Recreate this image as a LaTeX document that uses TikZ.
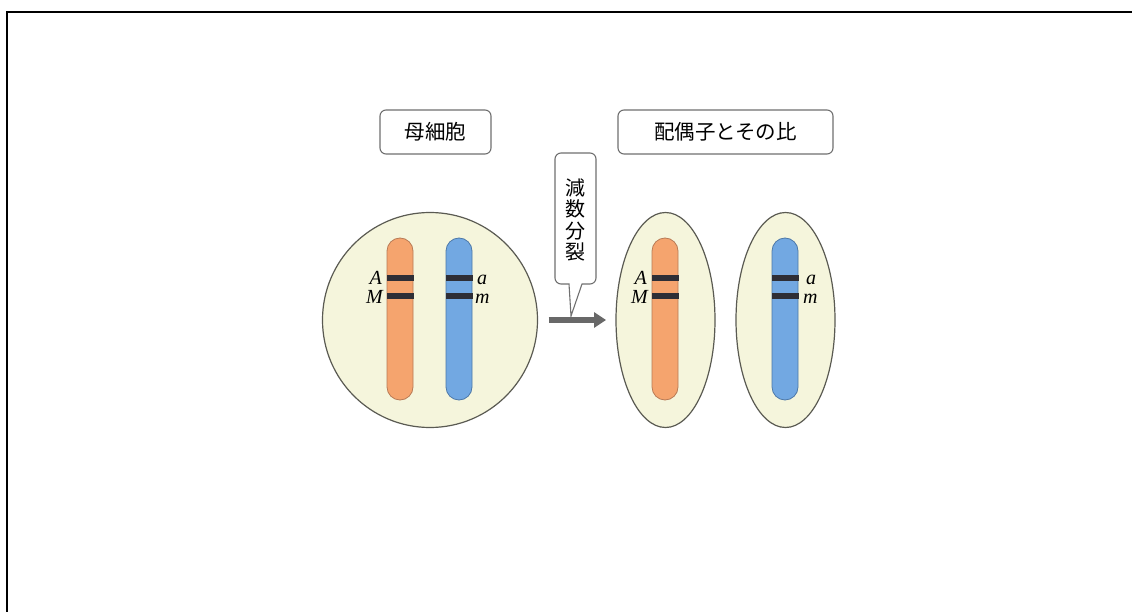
\documentclass[tikz,border=0pt]{standalone}
\usepackage{fontspec}
\newfontfamily\jp{Noto Sans CJK JP}
\newfontfamily\lat{Liberation Serif}
\usetikzlibrary{shapes.geometric,arrows.meta}

\definecolor{cellfill}{HTML}{F5F5DC}
\definecolor{celledge}{HTML}{5A5A52}
\definecolor{chrorange}{HTML}{F5A46E}
\definecolor{orangeedge}{HTML}{B87A55}
\definecolor{chrblue}{HTML}{72A8E2}
\definecolor{blueedge}{HTML}{4D78A8}
\definecolor{band}{HTML}{2E2E36}
\definecolor{boxedge}{HTML}{707070}
\definecolor{arrowgray}{HTML}{686868}

\tikzset{
  cell/.style={draw=celledge, fill=cellfill, line width=1.2pt, inner sep=0pt, outer sep=0pt},
  titlebox/.style={draw=boxedge, fill=white, line width=1.1pt, rounded corners=6pt,
    minimum height=44pt, inner sep=0pt, font=\jp\fontsize{20.5}{22}\selectfont},
  orangechr/.style={draw=orangeedge, fill=chrorange, line width=0.8pt, rounded corners=13pt},
  bluechr/.style={draw=blueedge, fill=chrblue, line width=0.8pt, rounded corners=13pt},
  bandline/.style={fill=band},
  gene/.style={inner sep=0pt, font=\lat\itshape\fontsize{20}{20}\selectfont},
  divarrow/.style={draw=arrowgray, line width=6pt, -{Triangle[length=12pt,width=15pt]}}
}

% one chromosome: style, left x
\newcommand{\chromo}[2]{%
  \draw[#1] (#2,238) rectangle ++(26,162);
  \fill[bandline] (#2-0.5,275) rectangle ++(27,6);
  \fill[bandline] (#2-0.5,293) rectangle ++(27,6);
}

\begin{document}
\begin{tikzpicture}[x=1pt,y=-1pt]
  \useasboundingbox (0,0) rectangle (1132,612);
  \fill[white] (0,0) rectangle (1132,612);
  % outer frame
  \draw[line width=1.6pt] (7,612) -- (7,12) -- (1132,12);

  % headings
  \node[titlebox, minimum width=111pt] (mtitle) at (435.5,132) {母細胞};
  \node[titlebox, minimum width=215pt] (gtitle) at (725.5,132) {配偶子とその比};

  % cells
  \node[cell, circle, minimum size=215pt] (mother) at (430,320) {};
  \node[cell, ellipse, minimum width=99pt, minimum height=215pt] (g1) at (665.5,320) {};
  \node[cell, ellipse, minimum width=99pt, minimum height=215pt] (g2) at (785.5,320) {};

  % chromosomes of the mother cell
  \chromo{orangechr}{387}
  \chromo{bluechr}{446}
  \node[gene, anchor=base east] (mA) at (382,285) {A};
  \node[gene, anchor=base east] (mM) at (383,304) {M};
  \node[gene, anchor=base west] (ma) at (477,285) {a};
  \node[gene, anchor=base west] (mm) at (475,304) {m};

  % chromosomes of the gametes
  \chromo{orangechr}{652}
  \chromo{bluechr}{772}
  \node[gene, anchor=base east] (gA) at (647,285) {A};
  \node[gene, anchor=base east] (gM) at (648,304) {M};
  \node[gene, anchor=base west] (ga) at (806,285) {a};
  \node[gene, anchor=base west] (gm) at (803,304) {m};

  % callout for meiosis
  \draw[draw=boxedge, fill=white, line width=1.1pt]
    (569,284) -- (571,316) -- (582,284) [rounded corners=6pt] -- (596,284) -- (596,153)
    -- (555,153) -- (555,284) [sharp corners] -- cycle;
  \node[inner sep=0pt, align=center, font=\jp\fontsize{20}{21.3}\selectfont] (div) at (575.5,220)
    {減\\数\\分\\裂};

  % division arrow
  \draw[divarrow, shorten <=11pt, shorten >=10pt] (mother) -- (g1);
\end{tikzpicture}
\end{document}
